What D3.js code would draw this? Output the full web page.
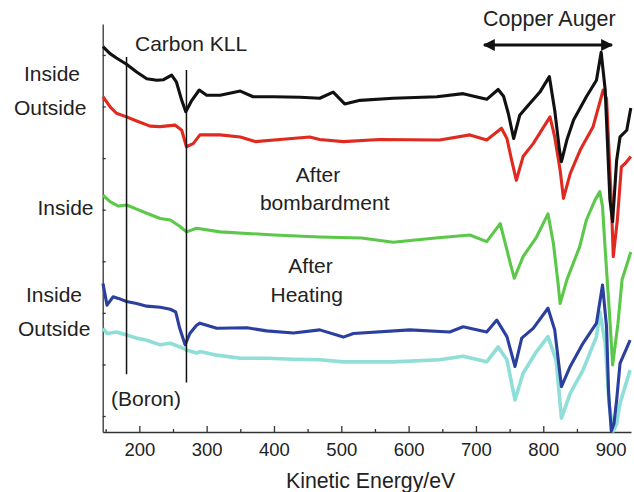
<!DOCTYPE html>
<html>
<head>
<meta charset="utf-8">
<script src="https://cdn.jsdelivr.net/npm/d3@7"></script>
<style>
  body { margin: 0; background: #fff; }
  svg text { font-family: "Liberation Sans", Arial, Helvetica, sans-serif; fill: #222; }
</style>
</head>
<body>
<svg id="drawing_region"></svg>
<script>
// spectra: [kinetic energy (eV), signal (a.u., offset per trace)]
const receivedInside = [
  [146,71.6],[156,70.3],[166,69.4],[181,68.2],[196,66.7],[211,65.4],[226,65.1],[236,65.2],
  [248,66.1],[255,64.8],[263,61.2],[269,59.0],[278,61.2],[289,63.2],[300,62.2],[320,62.2],
  [350,63.0],[369,61.9],[399,61.9],[439,61.8],[468,61.6],[488,62.8],[505,60.5],[528,61.2],
  [577,61.6],[642,61.9],[681,62.5],[716,61.4],[733,63.3],[741,62.0],[748,58.7],[756,53.8],
  [765,58.3],[780,60.6],[795,62.8],[809,65.8],[817,59.3],[824,51.6],[827,49.3],[835,53.5],
  [845,57.4],[864,61.9],[879,65.1],[886,70.5],[892,63.2],[899,41.9],[903,37.7],[909,49.6],
  [914,54.1],[924,55.4],[930,59.7]
];
const receivedOutside = [
  [146,61.9],[157,59.9],[166,58.7],[181,58.0],[196,57.2],[216,56.2],[231,56.1],[253,56.4],
  [263,55.4],[270,52.2],[280,52.8],[290,54.5],[320,54.5],[350,54.1],[372,53.2],[409,53.6],
  [453,54.1],[468,53.6],[503,53.2],[557,53.6],[646,53.5],[691,54.5],[716,53.5],[738,55.8],
  [746,53.8],[753,49.6],[760,45.7],[770,50.3],[785,52.8],[810,58.0],[817,54.1],[825,47.7],
  [830,42.2],[840,47.0],[855,51.6],[874,56.1],[889,63.2],[894,61.5],[901,41.9],[904,30.9],
  [910,38.0],[916,48.3],[922,49.0],[930,50.3]
];
const bombardedInside = [
  [146,42.8],[157,41.5],[169,40.7],[181,40.9],[196,40.1],[211,39.3],[231,38.3],[246,38.0],
  [260,36.8],[270,35.7],[285,36.4],[320,35.7],[400,35.1],[468,34.7],[530,34.5],[577,33.7],
  [640,34.5],[691,35.1],[716,33.8],[736,37.3],[746,32.2],[751,29.6],[757,26.7],[770,30.9],
  [790,34.7],[807,39.2],[815,33.5],[822,25.7],[825,21.8],[835,26.4],[854,32.8],[864,38.0],
  [877,41.9],[884,43.5],[888,40.6],[892,32.2],[899,18.6],[903,9.9],[911,18.0],[917,26.4],
  [930,31.8]
];
const heatedInside = [
  [146,25.7],[152,21.5],[161,23.1],[169,22.8],[181,22.2],[196,21.8],[211,21.3],[231,21.1],
  [246,20.7],[254,20.2],[260,17.0],[268,13.8],[275,16.0],[285,17.6],[290,18.0],[315,17.0],
  [360,17.1],[389,16.5],[429,16.1],[468,16.7],[503,15.3],[518,16.0],[602,16.7],[661,16.3],
  [681,17.3],[716,16.3],[731,18.6],[746,15.4],[758,9.6],[768,15.1],[785,17.0],[807,20.9],
  [817,16.7],[827,5.7],[840,9.6],[859,14.1],[879,18.0],[888,25.4],[894,17.3],[897,4.5],
  [901,-2.9],[905,-1.5],[909,3.1],[914,10.2],[929,14.7]
];
const heatedOutside = [
  [146,17.0],[152,16.0],[166,16.3],[181,15.7],[196,15.1],[211,14.7],[231,13.8],[246,14.1],
  [260,13.4],[270,12.8],[285,12.2],[290,12.5],[315,11.8],[350,11.2],[389,11.2],[429,11.0],
  [468,10.9],[503,10.5],[577,10.5],[646,10.9],[681,11.6],[716,10.5],[733,13.4],[746,10.9],
  [756,4.4],[758,3.1],[770,8.3],[790,12.5],[807,15.4],[819,10.9],[827,-0.4],[840,4.4],
  [859,8.9],[879,15.4],[884,20.2],[892,14.1],[898,2.0],[904,-2.9],[909,-1.5],[914,2.5],
  [929,8.9]
];

const seriesNames = ['heatedOutside','heatedInside','bombardedInside','receivedOutside','receivedInside'];
const seriesData = [heatedOutside, heatedInside, bombardedInside, receivedOutside, receivedInside];
const seriesColors = ['#8fded7','#2b3f9e','#5cc84a','#e02a20','#111111'];

const xMajorTicks = [200,300,400,500,600,700,800,900];
const xMinorTicks = [150,250,350,450,550,650,750,850];
const yTicks = [0,10,20,30,40,50,60,70];

// marker lines (Boron / Carbon KLL) and the copper Auger range
const markerEnergies = [181, 270];
const copperRange = [712, 902];

const width = 634, height = 492;
const svg = d3.select('#drawing_region')
  .attr('width', width)
  .attr('height', height);

const x = d3.scaleLinear().domain([145.6, 930.3]).range([102.7, 631]);
const y = d3.scaleLinear().domain([-3.1, 76]).range([432, 24]);

// axes
const xAxis = svg.append('g')
  .attr('transform', `translate(0,${y(-3.1)})`)
  .call(d3.axisBottom(x).tickValues(xMajorTicks).tickSizeInner(-6).tickSizeOuter(0).tickPadding(11));
xAxis.selectAll('text').attr('font-size', '18.5px');

svg.append('g')
  .attr('transform', `translate(0,${y(-3.1)})`)
  .call(d3.axisBottom(x).tickValues(xMinorTicks).tickSizeInner(-3).tickSizeOuter(0).tickFormat(''))
  .select('.domain').remove();

svg.append('g')
  .attr('transform', `translate(${x(145.6)},0)`)
  .call(d3.axisLeft(y).tickValues(yTicks).tickSizeInner(-3).tickSizeOuter(0).tickFormat(''));

svg.selectAll('.domain, .tick line').attr('stroke', '#333').attr('stroke-width', 1.3);

// spectra
const line = d3.line()
  .x(d => x(d[0]))
  .y(d => y(d[1]));

svg.append('g').selectAll('path')
  .data(seriesData)
  .join('path')
  .attr('class', (d, i) => seriesNames[i])
  .attr('d', line)
  .attr('fill', 'none')
  .attr('stroke', (d, i) => seriesColors[i])
  .attr('stroke-width', (d, i) => i === 0 ? 3.6 : 3.1)
  .attr('stroke-linejoin', 'round');

// vertical marker lines
svg.append('line')
  .attr('x1', x(markerEnergies[0])).attr('x2', x(markerEnergies[0]))
  .attr('y1', y(69.6)).attr('y2', y(8.1))
  .attr('stroke', '#111').attr('stroke-width', 1.5);
svg.append('line')
  .attr('x1', x(markerEnergies[1])).attr('x2', x(markerEnergies[1]))
  .attr('y1', y(67.1)).attr('y2', y(6.5))
  .attr('stroke', '#111').attr('stroke-width', 1.5);

// copper Auger double arrow
svg.append('defs').append('marker')
  .attr('id', 'head')
  .attr('viewBox', '0 0 10 10')
  .attr('refX', 9).attr('refY', 5)
  .attr('markerWidth', 5.5).attr('markerHeight', 4)
  .attr('markerUnits', 'strokeWidth')
  .attr('orient', 'auto-start-reverse')
  .append('path')
  .attr('d', 'M0,0 L10,5 L0,10 Z')
  .attr('fill', '#111');

svg.append('line')
  .attr('x1', x(copperRange[0])).attr('x2', x(copperRange[1]))
  .attr('y1', 45).attr('y2', 45)
  .attr('stroke', '#111').attr('stroke-width', 3)
  .attr('marker-start', 'url(#head)')
  .attr('marker-end', 'url(#head)');

// text labels
const labels = [
  {t: 'Carbon KLL', x: 135, y: 51, a: 'start'},
  {t: 'Copper Auger', x: 483, y: 26, a: 'start', s: 21.5},
  {t: 'Inside', x: 24, y: 81, a: 'start'},
  {t: 'Outside', x: 14, y: 115, a: 'start'},
  {t: 'Inside', x: 37.5, y: 214.5, a: 'start'},
  {t: 'After', x: 318, y: 182, a: 'middle'},
  {t: 'bombardment', x: 324.7, y: 210, a: 'middle'},
  {t: 'Inside', x: 26, y: 301.7, a: 'start'},
  {t: 'Outside', x: 18, y: 336, a: 'start'},
  {t: 'After', x: 310.5, y: 272.7, a: 'middle'},
  {t: 'Heating', x: 306.7, y: 301.7, a: 'middle'},
  {t: '(Boron)', x: 111, y: 405.7, a: 'start'},
  {t: 'Kinetic Energy/eV', x: 286, y: 488, a: 'start', s: 21.3}
];

svg.append('g').selectAll('text')
  .data(labels)
  .join('text')
  .attr('x', d => d.x)
  .attr('y', d => d.y)
  .attr('text-anchor', d => d.a)
  .attr('font-size', d => (d.s || 21) + 'px')
  .text(d => d.t);
</script>
</body>
</html>
